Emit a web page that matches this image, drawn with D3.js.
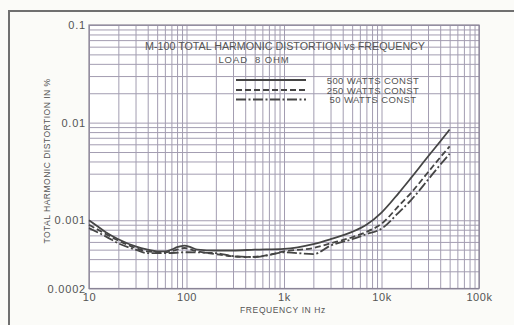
<!DOCTYPE html>
<html>
<head>
<meta charset="utf-8">
<script src="https://cdn.jsdelivr.net/npm/d3@7"></script>
<style>
  html, body { margin: 0; padding: 0; background: #fbfbf8; }
  svg { display: block; }
  text { font-family: "Liberation Sans", Arial, sans-serif; fill: #545454; }
</style>
</head>
<body>
<svg id="chart" width="514" height="325"></svg>
<script>
// Frequency points (Hz) and THD (%) for each power level
const freq500 = [10, 12, 15, 20, 30, 40, 50, 60, 70, 80, 95, 110, 130, 200, 300, 500, 1000, 2000, 3000, 5000, 7000, 10000, 15000, 20000, 30000, 40000, 50000];
const thd500  = [0.001, 0.00088, 0.00075, 0.00064, 0.00054, 0.0005, 0.00048, 0.00048, 0.0005, 0.00053, 0.00055, 0.00053, 0.0005, 0.00049, 0.00049, 0.0005, 0.00051, 0.00057, 0.00064, 0.00076, 0.0009, 0.0012, 0.0019, 0.0027, 0.0045, 0.0064, 0.0085];

const freq250 = [10, 15, 20, 30, 40, 60, 80, 95, 120, 200, 400, 600, 1000, 2000, 3000, 5000, 7000, 10000, 15000, 20000, 30000, 40000, 50000];
const thd250  = [0.0009, 0.00072, 0.00062, 0.00052, 0.00048, 0.00047, 0.0005, 0.00052, 0.00049, 0.00045, 0.00042, 0.00043, 0.00048, 0.00052, 0.00058, 0.00067, 0.00076, 0.00092, 0.0014, 0.0019, 0.0031, 0.0044, 0.0057];

const freq50 = [10, 15, 20, 30, 40, 60, 100, 200, 300, 500, 700, 1000, 2000, 3000, 5000, 7000, 10000, 15000, 20000, 30000, 40000, 50000];
const thd50  = [0.00083, 0.00068, 0.00058, 0.0005, 0.00046, 0.00046, 0.00047, 0.00046, 0.00043, 0.00042, 0.00044, 0.00047, 0.00045, 0.00055, 0.00064, 0.00072, 0.00082, 0.0012, 0.0016, 0.0026, 0.0037, 0.0048];

const seriesNames = ["500 WATTS CONST", "250 WATTS CONST", "50 WATTS CONST"];
const seriesDash  = [null, "6,3", "10,2.5,2,2.5"];

const xTickValues = [10, 100, 1000, 10000, 100000];
const xTickLabels = ["10", "100", "1k", "10k", "100k"];
const yTickValues = [0.1, 0.01, 0.001, 0.0002];
const yTickLabels = ["0.1", "0.01", "0.001", "0.0002"];

const titleText = "M-100 TOTAL HARMONIC DISTORTION vs FREQUENCY";
const subtitleText = "LOAD  8 OHM";
const xTitle = "FREQUENCY IN Hz";
const yTitle = "TOTAL HARMONIC DISTORTION IN %";

const svg = d3.select("#chart");
const plotL = 89, plotR = 479, plotT = 25, plotB = 288.5;

const x = d3.scaleLog().domain([10, 100000]).range([plotL, plotR]);
const y = d3.scaleLog().domain([0.0002, 0.1]).range([plotB, plotT]);

// outer frame (open on right and bottom)
svg.append("path")
  .attr("d", `M9,325 L9,11 L514,11`)
  .attr("fill", "none").attr("stroke", "#707070").attr("stroke-width", 2);

// plot background
svg.append("rect").attr("x", plotL).attr("y", plotT)
  .attr("width", plotR - plotL).attr("height", plotB - plotT).attr("fill", "#ffffff");

// log grid values: 1..9 in every decade
const minor = (lo, hi) => {
  const out = [];
  for (let p = Math.floor(Math.log10(lo)); p <= Math.ceil(Math.log10(hi)); p++) {
    for (let m = 1; m <= 9; m++) {
      const v = m * Math.pow(10, p);
      if (v >= lo * 0.9999 && v <= hi * 1.0001) out.push(v);
    }
  }
  return out;
};

const gridColor = "#a39db1";
svg.append("g")
  .attr("transform", `translate(0,${plotB})`)
  .call(d3.axisBottom(x).tickValues(minor(10, 100000)).tickSize(-(plotB - plotT)).tickFormat(""))
  .call(g => g.select(".domain").remove())
  .call(g => g.selectAll("line").attr("stroke", gridColor).attr("stroke-width", 1));

svg.append("g")
  .attr("transform", `translate(${plotL},0)`)
  .call(d3.axisLeft(y).tickValues(minor(0.0002, 0.1)).tickSize(-(plotR - plotL)).tickFormat(""))
  .call(g => g.select(".domain").remove())
  .call(g => g.selectAll("line").attr("stroke", gridColor).attr("stroke-width", 1));

// plot border
svg.append("rect").attr("x", plotL).attr("y", plotT)
  .attr("width", plotR - plotL).attr("height", plotB - plotT)
  .attr("fill", "none").attr("stroke", "#8a8496").attr("stroke-width", 1.2);

// axis labels
svg.append("g")
  .attr("transform", `translate(0,${plotB})`)
  .call(d3.axisBottom(x).tickValues(xTickValues).tickSize(0).tickPadding(5)
    .tickFormat((d, i) => xTickLabels[i]))
  .call(g => g.select(".domain").remove())
  .call(g => g.selectAll("text").attr("font-size", 11).attr("letter-spacing", 0.6).style("fill", "#545454"));

svg.append("g")
  .attr("transform", `translate(${plotL},0)`)
  .call(d3.axisLeft(y).tickValues(yTickValues).tickSize(0).tickPadding(3)
    .tickFormat((d, i) => yTickLabels[i]))
  .call(g => g.select(".domain").remove())
  .call(g => g.selectAll("text").attr("font-size", 11).attr("letter-spacing", 0.8).style("fill", "#545454"));

svg.append("text").attr("x", 283).attr("y", 313).attr("text-anchor", "middle")
  .attr("font-size", 8.5).attr("letter-spacing", 0.6).text(xTitle);

svg.append("text").attr("transform", "translate(50,161) rotate(-90)")
  .attr("text-anchor", "middle").attr("font-size", 8.5).attr("letter-spacing", 0.5).text(yTitle);

// titles
svg.append("text").attr("x", 285).attr("y", 49.5).attr("text-anchor", "middle")
  .attr("font-size", 10).attr("textLength", 280).attr("lengthAdjust", "spacingAndGlyphs").text(titleText);
svg.append("text").attr("x", 254).attr("y", 63).attr("text-anchor", "middle")
  .attr("font-size", 9.5).attr("letter-spacing", 0.9).attr("xml:space", "preserve").text(subtitleText);

// curves
const line = d3.line().x(d => x(d[0])).y(d => y(d[1])).curve(d3.curveMonotoneX);
const series = [
  d3.zip(freq500, thd500),
  d3.zip(freq250, thd250),
  d3.zip(freq50, thd50)
];
series.forEach((s, i) => {
  svg.append("path").datum(s)
    .attr("d", line)
    .attr("fill", "none")
    .attr("stroke", "#454545")
    .attr("stroke-width", 1.8)
    .attr("stroke-dasharray", seriesDash[i]);
});

// legend
const legY = [80, 90, 99.5];
seriesNames.forEach((name, i) => {
  svg.append("line").attr("x1", 236).attr("x2", 306).attr("y1", legY[i]).attr("y2", legY[i])
    .attr("stroke", "#454545").attr("stroke-width", 1.8).attr("stroke-dasharray", seriesDash[i]);
  svg.append("text").attr("x", 373).attr("y", legY[i] + 3.5).attr("text-anchor", "middle")
    .attr("font-size", 9.5).attr("letter-spacing", 0.4).text(name);
});
</script>
</body>
</html>
